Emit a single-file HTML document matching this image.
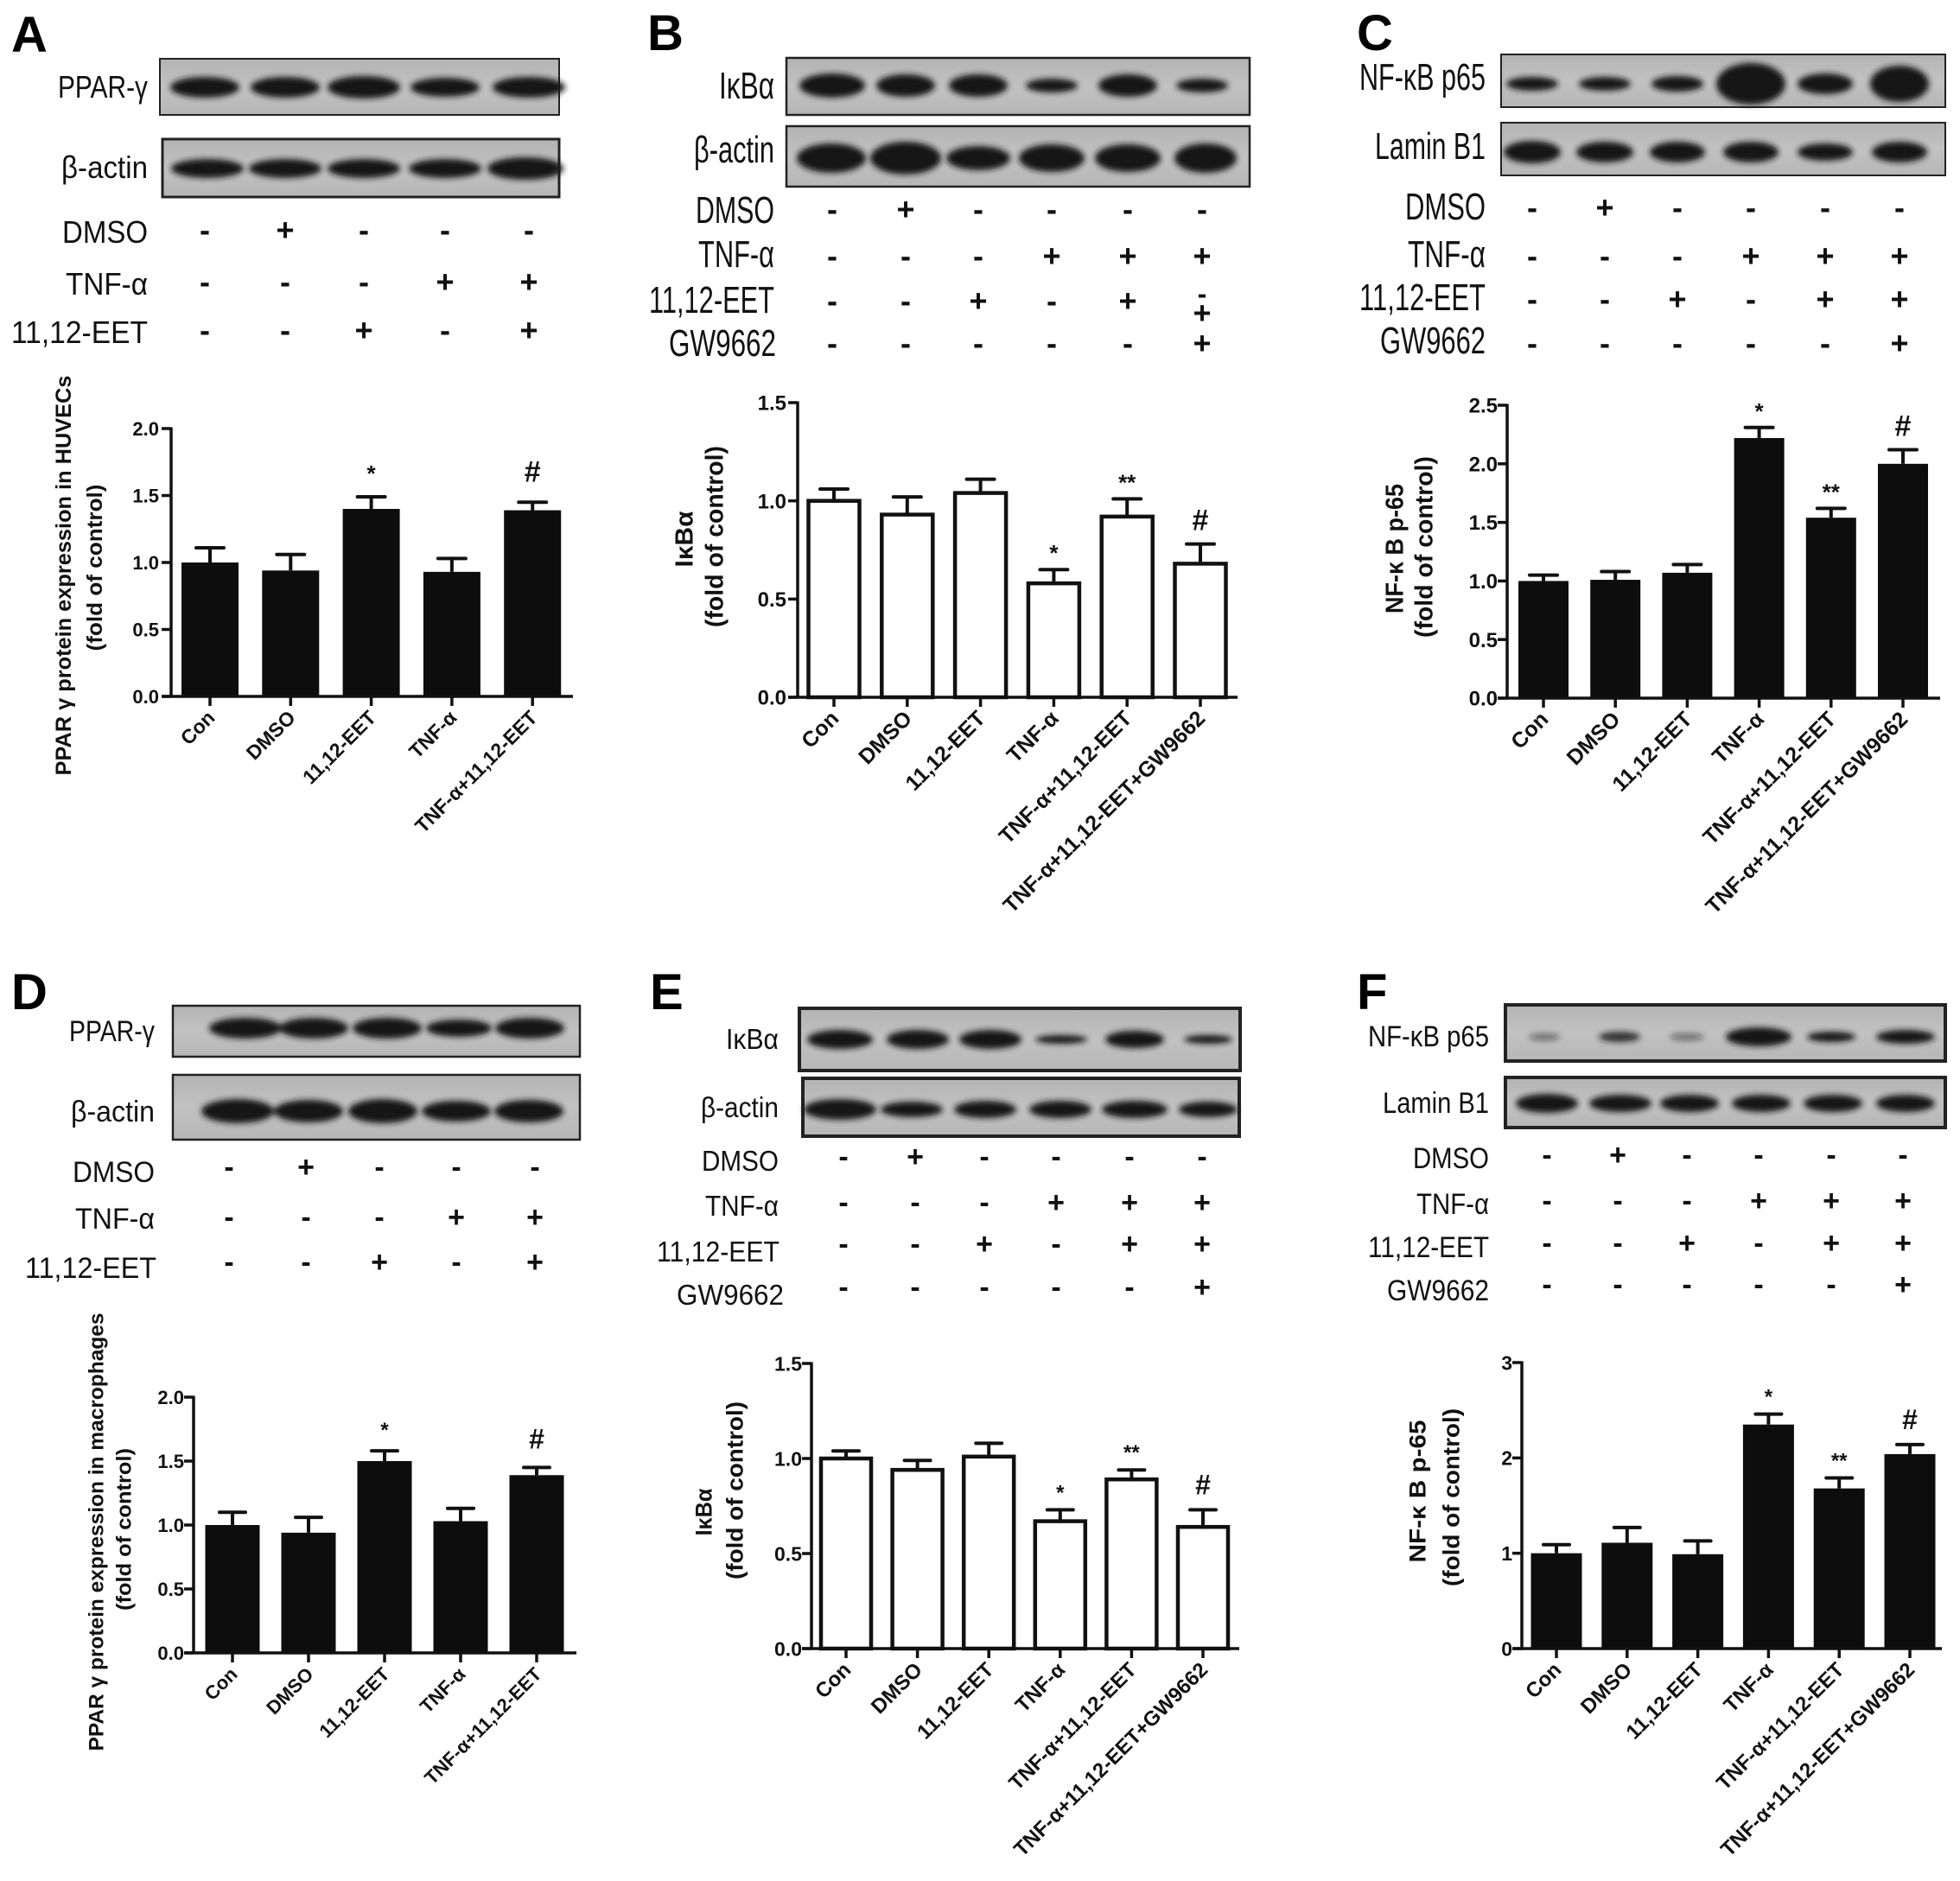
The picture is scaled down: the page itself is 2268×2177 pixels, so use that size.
<!DOCTYPE html>
<html><head><meta charset="utf-8"><style>
html,body{margin:0;padding:0;background:#fff;}
svg{display:block;font-family:"Liberation Sans",Arial,sans-serif;}
</style></head><body>
<svg id="fig" xmlns="http://www.w3.org/2000/svg" width="2268" height="2177" viewBox="0 0 2268 2177">
<defs>
<filter id="blur" x="-30%" y="-60%" width="160%" height="220%"><feGaussianBlur stdDeviation="3.5"/></filter>
<linearGradient id="blotbg" x1="0" y1="0" x2="0" y2="1"><stop offset="0" stop-color="#b3b3b3"/><stop offset="0.5" stop-color="#c2c2c2"/><stop offset="1" stop-color="#b6b6b6"/></linearGradient>
</defs>
<g id="root"></g>
</svg>
<script>
// ---- Chart data ----
const catsA = ["Con","DMSO","11,12-EET","TNF-α","TNF-α+11,12-EET"];
const valsA = [1.00,0.94,1.40,0.93,1.39];
const errA  = [0.11,0.12,0.09,0.10,0.06];
const marksA = ["","","*","","#"];
const ticksA = ["0.0","0.5","1.0","1.5","2.0"];

const catsB = ["Con","DMSO","11,12-EET","TNF-α","TNF-α+11,12-EET","TNF-α+11,12-EET+GW9662"];
const valsB = [1.00,0.93,1.04,0.58,0.92,0.68];
const errB  = [0.06,0.09,0.07,0.07,0.09,0.10];
const marksB = ["","","","*","**","#"];
const ticksB = ["0.0","0.5","1.0","1.5"];

const catsC = ["Con","DMSO","11,12-EET","TNF-α","TNF-α+11,12-EET","TNF-α+11,12-EET+GW9662"];
const valsC = [1.00,1.01,1.07,2.22,1.54,2.00];
const errC  = [0.05,0.07,0.07,0.09,0.08,0.12];
const marksC = ["","","","*","**","#"];
const ticksC = ["0.0","0.5","1.0","1.5","2.0","2.5"];

const catsD = ["Con","DMSO","11,12-EET","TNF-α","TNF-α+11,12-EET"];
const valsD = [1.00,0.94,1.50,1.03,1.39];
const errD  = [0.10,0.12,0.08,0.10,0.06];
const marksD = ["","","*","","#"];
const ticksD = ["0.0","0.5","1.0","1.5","2.0"];

const catsE = ["Con","DMSO","11,12-EET","TNF-α","TNF-α+11,12-EET","TNF-α+11,12-EET+GW9662"];
const valsE = [1.00,0.94,1.01,0.67,0.89,0.64];
const errE  = [0.04,0.05,0.07,0.06,0.05,0.09];
const marksE = ["","","","*","**","#"];
const ticksE = ["0.0","0.5","1.0","1.5"];

const catsF = ["Con","DMSO","11,12-EET","TNF-α","TNF-α+11,12-EET","TNF-α+11,12-EET+GW9662"];
const valsF = [1.00,1.11,0.99,2.35,1.68,2.04];
const errF  = [0.09,0.16,0.14,0.11,0.11,0.10];
const marksF = ["","","","*","**","#"];
const ticksF = ["0","1","2","3"];

const NS = "http://www.w3.org/2000/svg";
const root = document.getElementById("root");
function mk(tag, attrs, parent){
  const e = document.createElementNS(NS, tag);
  for (const k in attrs) e.setAttribute(k, attrs[k]);
  (parent||root).appendChild(e);
  return e;
}
function txt(s, attrs, parent){
  const e = mk("text", attrs, parent);
  e.textContent = s;
  return e;
}

// ---- Bar chart ----
function drawChart(c){
  const g = mk("g", {});
  
  
  const maxV = parseFloat(c.ticks[c.ticks.length-1]);
  const yS = v => c.y0 - (v/maxV)*(c.y0 - c.yTop);
  const xS = i => c.first + i*c.step;
  c.vals.forEach((v,i)=>{
    const cx = xS(i), top = yS(v), et = yS(v + c.errs[i]);
    const eb = mk("line",{x1:cx,y1:top,x2:cx,y2:et,stroke:"#111","stroke-width":4},g);
    
    
    const cap = mk("line",{x1:cx-c.cap/2,y1:et,x2:cx+c.cap/2,y2:et,stroke:"#111","stroke-width":4,"stroke-linecap":"round"},g);
    
    
    let r;
    if (c.white){
      r = mk("rect",{x:cx-c.barW/2,y:top,width:c.barW,height:c.y0-top,fill:"#fff",stroke:"#111","stroke-width":4.5},g);
      mk("line",{x1:cx,y1:top,x2:cx,y2:top+2,stroke:"#111","stroke-width":4},g);
    } else {
      r = mk("rect",{x:cx-c.barW/2,y:top,width:c.barW,height:c.y0-top,fill:"#0d0d0d"},g);
    }
    
    
    if (c.marks[i]){
      const isHash = c.marks[i] === "#";
      const m = txt(c.marks[i],{x:cx,y:et-(isHash?c.gap+2:c.gap-4),"text-anchor":"middle","font-weight":"bold","font-size":isHash?c.markF+8:c.markF,fill:"#111"},g);
      
      
    }
    mk("line",{x1:cx,y1:c.y0,x2:cx,y2:c.y0+11,stroke:"#111","stroke-width":3.5},g);
    const xl = txt(c.cats[i],{x:0,y:0,"text-anchor":"end","font-weight":"bold","font-size":c.xlabF,fill:"#111",
      transform:`translate(${cx+7},${c.y0+26}) rotate(-45)`},g);
    
    
  });
  const ya = mk("line",{x1:c.x0,y1:c.y0+1.5,x2:c.x0,y2:c.yTop-1.5,stroke:"#111","stroke-width":3.5},g);
  
  
  const xa = mk("line",{x1:c.x0-11,y1:c.y0,x2:c.xEnd,y2:c.y0,stroke:"#111","stroke-width":3.5},g);
  
  
  c.ticks.forEach(t=>{
    const y = yS(parseFloat(t));
    mk("line",{x1:c.x0-11,y1:y,x2:c.x0,y2:y,stroke:"#111","stroke-width":3.5},g);
    const tl = txt(t,{x:c.tickR,y:y+c.tickF*0.36,"text-anchor":"end","font-weight":"bold","font-size":c.tickF,fill:"#111"},g);
    
    
  });
  c.title.forEach((s,k)=>{
    const t = txt(s,{x:0,y:0,"text-anchor":"middle","font-weight":"bold","font-size":c.titleF,fill:"#111",
      textLength:c.tLen[k],lengthAdjust:"spacingAndGlyphs",
      transform:`translate(${c.tX[k]+c.titleF*0.36},${c.tY[k]}) rotate(-90)`},g);
    
    
  });
}

drawChart({name:"chart-a",cats:catsA,vals:valsA,errs:errA,marks:marksA,ticks:ticksA,x0:198,y0:806,yTop:496,xEnd:663,first:243,step:93.3,barW:66,cap:32,white:false,tickR:184,tickF:22,xlabF:23,markF:26,gap:22,titleF:25,title:["PPAR γ  protein expression in HUVECs","(fold of control)"],tX:[73,109],tY:[666,657],tLen:[463,193]});
drawChart({name:"chart-b",cats:catsB,vals:valsB,errs:errB,marks:marksB,ticks:ticksB,x0:923,y0:807,yTop:466,xEnd:1432,first:965,step:84.8,barW:59,cap:32,white:true,tickR:910,tickF:24,xlabF:25,markF:26,gap:14,titleF:29,title:["IκBα","(fold of control)"],tX:[791,826],tY:[624,621],tLen:[65,210]});
drawChart({name:"chart-c",cats:catsC,vals:valsC,errs:errC,marks:marksC,ticks:ticksC,x0:1744,y0:808,yTop:469,xEnd:2245,first:1786,step:83.2,barW:58,cap:32,white:false,tickR:1733,tickF:24,xlabF:25,markF:26,gap:14,titleF:29,title:["NF-κ B p-65","(fold of control)"],tX:[1613,1647],tY:[635,633],tLen:[150,210]});
drawChart({name:"chart-d",cats:catsD,vals:valsD,errs:errD,marks:marksD,ticks:ticksD,x0:224,y0:1913,yTop:1617,xEnd:667,first:269,step:88,barW:63,cap:30,white:false,tickR:213,tickF:22,xlabF:22,markF:24,gap:20,titleF:24,title:["PPAR γ  protein expression in macrophages","(fold of control)"],tX:[111,143],tY:[1773,1770],tLen:[507,188]});
drawChart({name:"chart-e",cats:catsE,vals:valsE,errs:errE,marks:marksE,ticks:ticksE,x0:939,y0:1908,yTop:1578,xEnd:1434,first:979,step:82.6,barW:58,cap:30,white:true,tickR:928,tickF:23,xlabF:24,markF:24,gap:16,titleF:27,title:["IκBα","(fold of control)"],tX:[814,850],tY:[1750,1725],tLen:[55,206]});
drawChart({name:"chart-f",cats:catsF,vals:valsF,errs:errF,marks:marksF,ticks:ticksF,x0:1761,y0:1908,yTop:1577,xEnd:2247,first:1801,step:81.8,barW:59,cap:30,white:false,tickR:1750,tickF:23,xlabF:24,markF:24,gap:16,titleF:27,title:["NF-κ B p-65","(fold of control)"],tX:[1640,1679],tY:[1726,1733],tLen:[165,206]});

// ---- Western blots ----
function blot(name, x, y, w, h, bw, cy, bands){
  const g = mk("g", {});
  
  
  mk("rect",{x:x,y:y,width:w,height:h,fill:"url(#blotbg)",stroke:"#222","stroke-width":bw},g);
  const bg = mk("g",{filter:"url(#blur)"},g);
  bands.forEach(b=>{
    const e = mk("ellipse",{cx:b[0],cy:cy,rx:b[1],ry:b[2],fill:"#161616","fill-opacity":b[3]===undefined?1:b[3]},bg);
    
    
  });
}
function label(s, xr, y, size, len){
  const t = txt(s,{x:xr,y:y,"text-anchor":"end","font-size":size,fill:"#111",textLength:len,lengthAdjust:"spacingAndGlyphs"});
  
  
}
function signs(cols, y, pattern, size){
  pattern.split("").forEach((p,i)=>{
    const t = txt(p==="+"?"+":"-",{x:cols[i],y:y,"text-anchor":"middle","dominant-baseline":"central","font-weight":"bold","font-size":size,fill:"#111"});
    
    
  });
}
function letter(s,x,y){
  const t = txt(s,{x:x,y:y,"font-weight":"bold","font-size":58,fill:"#000"});
  
  
}

// Panel A
letter("A",13,60);
const colA=[237,330,421,515,612];
blot("blot-ppar-a",185,68,462,65,2,101,[[237,40,12],[330,40,12],[421,42,13],[515,40,11],[612,42,12]]);
blot("blot-actin-a",188,161,459,67,3,195,[[240,42,11],[330,42,11],[421,42,11],[515,42,11],[608,44,13]]);
label("PPAR-γ",171,113,36,104);
label("β-actin",171,206,36,100);
label("DMSO",171,281,36,99);
label("TNF-α",171,341,36,95);
label("11,12-EET",171,397,36,158);
signs(colA,266,"-+---",36);signs(colA,326,"---++",36);signs(colA,382,"--+-+",36);

// Panel B
letter("B",749,58);
const colB=[963,1048,1132,1217,1305,1391];
blot("blot-ikba-b",910,67,536,66,2.5,99,[[963,38,14],[1048,34,13],[1132,34,13],[1217,30,8],[1305,34,13],[1391,30,8]]);
blot("blot-actin-b",910,146,536,70,2.5,183,[[962,40,17],[1048,41,19],[1132,37,14],[1217,38,16],[1305,38,16],[1395,36,17]]);
label("IκBα",896,114,44,64);
label("β-actin",896,188,44,93);
label("DMSO",896,258,44,91);
label("TNF-α",896,309,44,88);
label("11,12-EET",896,362,44,145);
label("GW9662",898,412,44,124);
signs(colB,242,"-+----",36);signs(colB,296,"---+++",36);signs(colB,348,"--+-+",36);signs(colB,397,"-----+",36);
signs([1391],340,"-",32);signs([1391],362,"+",36);

// Panel C
letter("C",1570,58);
const colC=[1773,1857,1941,2026,2112,2198];
blot("blot-nfkb-c",1737,63,514,61,2,97,[[1773,30,8],[1857,30,8],[1941,30,9],[2026,40,24],[2112,32,12],[2198,34,21]]);
blot("blot-lamin-c",1737,142,514,61,2,176,[[1773,33,13],[1857,33,12],[1941,32,12],[2026,32,12],[2112,32,10],[2198,32,12]]);
label("NF-κB p65",1719,104,44,146);
label("Lamin B1",1719,184,44,128);
label("DMSO",1719,254,44,93);
label("TNF-α",1719,309,44,90);
label("11,12-EET",1719,359,44,146);
label("GW9662",1719,409,44,122);
signs(colC,240,"-+----",36);signs(colC,296,"---+++",36);signs(colC,346,"--+-++",36);signs(colC,397,"-----+",36);

// Panel D
letter("D",13,1168);
const colD=[265,354,439,528,619];
blot("blot-ppar-d",200,1164,471,59,2.5,1190,[[284,42,12],[363,40,12],[448,40,12],[531,38,10],[613,40,12]]);
blot("blot-actin-d",200,1244,471,75,2.5,1286,[[275,42,14],[357,40,13],[443,40,14],[528,40,12],[612,40,13]]);
label("PPAR-γ",179,1205,34,99);
label("β-actin",179,1298,34,97);
label("DMSO",179,1368,34,95);
label("TNF-α",179,1422,34,92);
label("11,12-EET",181,1479,34,152);
signs(colD,1351,"-+---",34);signs(colD,1409,"---++",34);signs(colD,1461,"--+-+",34);

// Panel E
letter("E",752,1168);
const colE=[976,1059,1139,1222,1307,1391];
blot("blot-ikba-e",925,1167,510,72,4,1203,[[972,38,11],[1062,36,11],[1146,36,11],[1228,30,5],[1313,34,10],[1398,28,5]]);
blot("blot-actin-e",929,1248,505,67,4,1284,[[972,42,12],[1055,36,9],[1140,36,10],[1227,36,10],[1313,38,10],[1398,34,9]]);
label("IκBα",901,1214,33,61);
label("β-actin",901,1293,33,90);
label("DMSO",901,1355,33,89);
label("TNF-α",901,1407,33,85);
label("11,12-EET",902,1460,33,142);
label("GW9662",907,1510,33,124);
signs(colE,1339,"-+----",34);signs(colE,1392,"---+++",34);signs(colE,1440,"--+-++",34);signs(colE,1490,"-----+",34);

// Panel F
letter("F",1570,1168);
const colF=[1790,1872,1952,2035,2119,2202];
blot("blot-nfkb-f",1742,1163,509,65,4,1200,[[1787,18,4,0.5],[1874,24,6,0.85],[1952,20,4,0.5],[2035,38,11],[2119,28,6],[2205,34,8]]);
blot("blot-lamin-f",1742,1247,509,58,4,1277,[[1790,36,11],[1875,36,10],[1955,34,10],[2038,34,10],[2121,34,10],[2205,34,10]]);
label("NF-κB p65",1723,1211,34,140);
label("Lamin B1",1723,1288,34,123);
label("DMSO",1723,1352,34,88);
label("TNF-α",1723,1405,34,84);
label("11,12-EET",1723,1455,34,140);
label("GW9662",1723,1505,34,118);
signs(colF,1337,"-+----",34);signs(colF,1390,"---+++",34);signs(colF,1439,"--+-++",34);signs(colF,1487,"-----+",34);
</script>
</body></html>
